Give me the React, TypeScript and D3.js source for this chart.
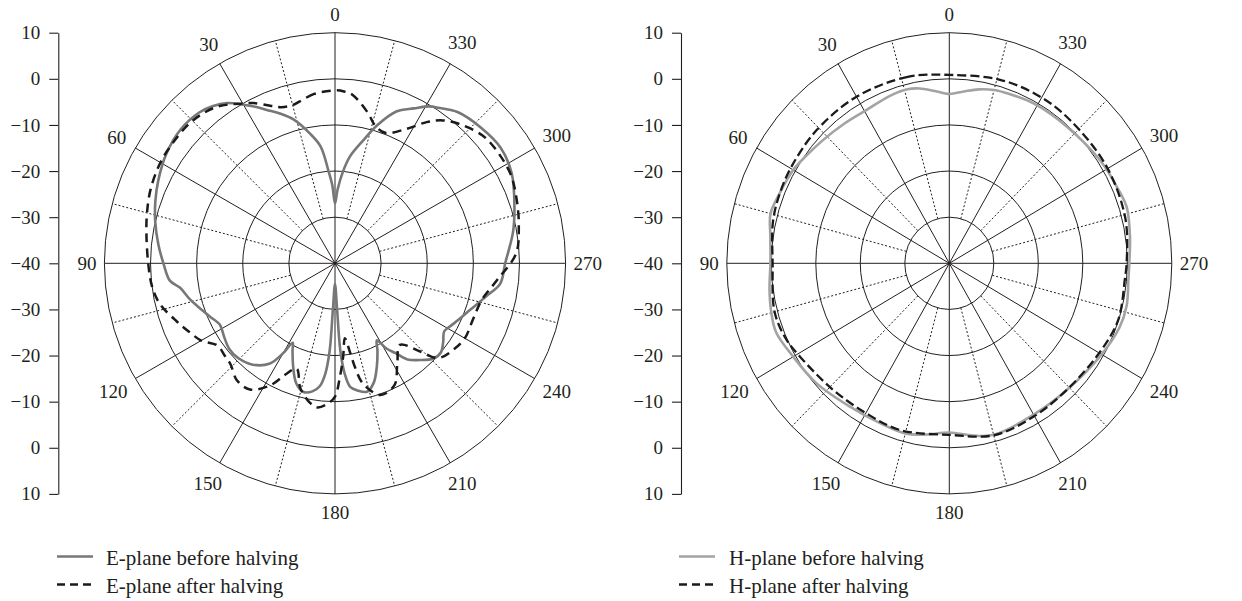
import React, { useEffect, useRef } from 'react';
import * as d3 from 'd3';

// grid rings in dB (centre of the plot is -40)
const ringLevels = [-30, -20, -10, 0, 10];
const axisTickLabels = ['10', '0', '−10', '−20', '−30', '−40', '−30', '−20', '−10', '0', '10'];
const angleLabels = [0, 30, 60, 90, 120, 150, 180, 210, 240, 270, 300, 330];
const dottedAngles = [15, 45, 75, 105, 135, 165, 195, 225, 255, 285, 315, 345];

// E-plane before halving (grey solid)
const eBeforeAngles = [0, 2, 4, 7, 11, 16, 20, 24, 27, 30, 34, 38, 42, 49, 57, 65, 71, 77, 84, 90,
  96, 99, 104, 108, 113, 118, 121, 124, 129, 134, 141, 147, 150, 152, 154, 158, 162, 166, 170, 173,
  175, 176.5, 177.4, 180, 182.6, 183.5, 185, 187, 190, 194, 198, 202, 206, 208.5, 211, 214, 217, 221,
  226, 230, 234, 238, 241, 246, 251, 258, 263, 270, 280, 288, 297, 305, 313, 321, 326, 329, 333, 338,
  343, 347, 352, 355, 358];
const eBeforeDb = [-27, -23, -20, -14.5, -11.3, -7.6, -5.5, -3.6, -1.9, -0.3, 1.9, 3.2, 4.0, 4.3, 3.6, 2.3, 1.2, 0.0, -1.5, -2.8,
  -4.0, -6.0, -7.6, -9.0, -10.5, -11.7, -11.5, -11.1, -10.5, -10.6, -11.7, -14.1, -17.5, -20.5, -19, -15.8, -12.7, -11.3, -11.8, -13.2,
  -16, -21, -30, -35.5, -30, -21, -16, -13, -12.0, -11.3, -12.8, -15.8, -19, -21, -18.5, -16.5, -13.9, -12.2,
  -10.3, -10.0, -11.0, -12.1, -11.6, -10.4, -9.0, -6.3, -3.9, -3.1, -0.8, 0.9, 3.0, 3.8, 3.2, 2.2, 0.6, -0.3, -2.3, -4.5,
  -8.7, -12.6, -16.6, -20, -24];

// E-plane after halving (black dashed)
const eAfterAngles = [0, 7, 11, 15, 19, 22, 27, 30, 37, 45, 53, 60, 68, 75, 81, 90, 97, 103, 110, 115,
  120, 125, 130, 134, 140, 146, 152, 156, 160, 164.5, 170, 173, 177, 180, 182.5, 185, 187.5, 189.5, 191, 193,
  199, 206, 212, 218.5, 224, 227.5, 234, 240, 248, 256, 264, 273, 281, 289, 297, 306, 311, 317.5, 323, 327,
  332, 339, 344, 347.5, 354, 357];
const eAfterDb = [-2.5, -3.0, -3.8, -4.5, -4.2, -3.2, -1.0, 0.0, 2.5, 3.7, 3.8, 3.7, 3.1, 2.2, 1.4, 0.5, 0.0, -1.0, -3.4, -5.0,
  -6.5, -8.9, -8.8, -8.5, -6.9, -7.0, -10.0, -13.6, -15.7, -11.9, -9.2, -8.5, -9.5, -11.1, -15.4, -19.7, -23.6, -20.6, -16.8, -13.3,
  -9.8, -10.6, -14.5, -17.4, -13.4, -9.6, -8.2, -7.5, -7.7, -7.2, -4.7, -0.7, 0.6, 1.7, 2.7, 2.7, 2.3, 0.7, -1.2, -3.5,
  -7.0, -9.7, -8.8, -6.7, -3.3, -2.7];

// H-plane before halving (light grey solid)
const hBeforeAngles = [0, 5, 10, 14, 20, 29, 38, 47, 54, 60, 69, 75, 82, 90, 98, 105, 111, 120, 131, 144,
  156, 165, 172, 180, 188, 195, 210, 224, 239, 250, 257, 265, 270, 278, 287, 292, 303, 318, 331, 340,
  345, 350, 355];
const hBeforeDb = [-3.3, -2.5, -1.5, -1.1, -1.3, -1.9, -1.6, -1.0, -0.3, 0.5, 1.1, 1.6, 0.6, 0.2, 0.8, 1.4, 1.7, 0.5, -0.4, -1.7,
  -2.0, -1.8, -2.5, -3.3, -2.3, -1.5, -2.1, -1.9, -0.6, 0.7, 0.9, 0.4, 0.45, 1.0, 1.7, 1.3, 0.6, -0.3, -0.5, -0.9,
  -1.1, -1.7, -2.6];

// H-plane after halving (black dashed)
const hAfterAngles = [0, 13, 30, 46, 59, 68, 77, 90, 105, 114, 121, 136, 150, 163, 180, 195, 210, 225, 240, 252,
  265, 270, 284, 301, 319, 331, 344];
const hAfterDb = [0.85, 1.5, 1.7, 1.5, 1.2, 1.0, 0.65, -0.3, 0.65, 0.2, -0.8, -2.1, -2.5, -2.2, -2.8, -1.4, -1.75, -1.9, -1.1, -0.1,
  -0.4, -0.15, 0.75, 1.1, 1.25, 1.5, 1.4];

const ink = '#231f20';
const font = "'Liberation Serif', 'Times New Roman', serif";

type Series = { angles: number[]; values: number[]; color: string; width: number; dash: string | null; label: string };

type Panel = {
  cx: number; cy: number; rx: number; ry: number; axisX: number;
  legendX1: number; legendX2: number; legendTextX: number;
  series: Series[];
};

const panels: Panel[] = [
  {
    cx: 335, cy: 263.3, rx: 230.6, ry: 230.6, axisX: 58.3,
    legendX1: 57, legendX2: 93, legendTextX: 106,
    series: [
      { angles: eBeforeAngles, values: eBeforeDb, color: '#777777', width: 2.6, dash: null, label: 'E-plane before halving' },
      { angles: eAfterAngles, values: eAfterDb, color: '#1a1a1a', width: 2.5, dash: '9,6', label: 'E-plane after halving' },
    ],
  },
  {
    cx: 949.3, cy: 263.3, rx: 222.5, ry: 230.6, axisX: 681,
    legendX1: 679, legendX2: 715, legendTextX: 729,
    series: [
      { angles: hBeforeAngles, values: hBeforeDb, color: '#a3a3a3', width: 2.6, dash: null, label: 'H-plane before halving' },
      { angles: hAfterAngles, values: hAfterDb, color: '#1a1a1a', width: 2.3, dash: '9,4', label: 'H-plane after halving' },
    ],
  },
];

const rad = (a: number) => (a * Math.PI) / 180;

const App = () => {
  const ref = useRef<SVGSVGElement>(null);

  useEffect(() => {
    const svg = d3.select(ref.current);
    svg.selectAll('*').remove();

    panels.forEach(p => {
      const g = svg.append('g');
      const rX = d3.scaleLinear().domain([-40, 10]).range([0, p.rx]);
      const rY = d3.scaleLinear().domain([-40, 10]).range([0, p.ry]);
      const px = (a: number, v: number) => p.cx - rX(v) * Math.sin(rad(a));
      const py = (a: number, v: number) => p.cy - rY(v) * Math.cos(rad(a));

      // rings
      g.selectAll('ellipse.ring')
        .data(ringLevels)
        .enter()
        .append('ellipse')
        .attr('cx', p.cx)
        .attr('cy', p.cy)
        .attr('rx', d => rX(d))
        .attr('ry', d => rY(d))
        .attr('fill', 'none')
        .attr('stroke', ink)
        .attr('stroke-width', 1);

      // solid spokes
      g.selectAll('line.spoke')
        .data(angleLabels)
        .enter()
        .append('line')
        .attr('x1', p.cx)
        .attr('y1', p.cy)
        .attr('x2', d => px(d, 10))
        .attr('y2', d => py(d, 10))
        .attr('stroke', ink)
        .attr('stroke-width', 1);

      // dotted spokes
      g.selectAll('line.dot')
        .data(dottedAngles)
        .enter()
        .append('line')
        .attr('x1', d => px(d, -30))
        .attr('y1', d => py(d, -30))
        .attr('x2', d => px(d, 10))
        .attr('y2', d => py(d, 10))
        .attr('stroke', ink)
        .attr('stroke-width', 1)
        .attr('stroke-dasharray', '2,2');

      // angle labels
      const fs = 19;
      g.selectAll('text.ang')
        .data(angleLabels)
        .enter()
        .append('text')
        .attr('x', d => {
          const s = Math.sin(rad(d)), c = Math.cos(rad(d));
          const w = String(d).length * 0.5 * fs;
          const off = 8 + Math.abs(s) * w / 2 + Math.abs(c) * 10.4;
          return p.cx - s * (p.rx + off);
        })
        .attr('y', d => {
          const s = Math.sin(rad(d)), c = Math.cos(rad(d));
          const w = String(d).length * 0.5 * fs;
          const off = 8 + Math.abs(s) * w / 2 + Math.abs(c) * 10.4;
          return p.cy - c * (p.ry + off);
        })
        .attr('dy', '0.34em')
        .attr('text-anchor', 'middle')
        .attr('font-family', font)
        .attr('font-size', fs)
        .attr('fill', ink)
        .text(d => String(d));

      // dB axis on the left
      const yAxis = d3.scaleLinear().domain([0, axisTickLabels.length - 1]).range([p.cy - p.ry, p.cy + p.ry]);
      const axisG = g.append('g')
        .attr('transform', `translate(${p.axisX},0)`)
        .call(
          d3.axisLeft(yAxis)
            .tickValues(d3.range(axisTickLabels.length))
            .tickFormat(i => axisTickLabels[i as number])
            .tickSize(9)
            .tickSizeOuter(0)
            .tickPadding(9)
        );
      axisG.attr('font-family', font).attr('font-size', fs).attr('color', ink);
      axisG.selectAll('line').attr('stroke-width', 1.1);
      axisG.select('.domain').attr('stroke-width', 1.1);

      // pattern curves
      p.series.forEach(s => {
        const pts = s.angles.map((a, i) => [a, s.values[i]] as [number, number]);
        const line = d3.line<[number, number]>()
          .x(d => px(d[0], d[1]))
          .y(d => py(d[0], d[1]))
          .curve(d3.curveCatmullRomClosed.alpha(0.5));
        g.append('path')
          .attr('d', line(pts))
          .attr('fill', 'none')
          .attr('stroke', s.color)
          .attr('stroke-width', s.width)
          .attr('stroke-dasharray', s.dash)
          .attr('stroke-linejoin', 'round');
      });

      // legend
      p.series.forEach((s, i) => {
        const base = 565 + i * 28;
        g.append('line')
          .attr('x1', p.legendX1)
          .attr('x2', p.legendX2)
          .attr('y1', base - 8.5)
          .attr('y2', base - 8.5)
          .attr('stroke', s.color)
          .attr('stroke-width', s.dash ? 2.5 : 2.6)
          .attr('stroke-dasharray', s.dash ? '8,5' : null);
        g.append('text')
          .attr('x', p.legendTextX)
          .attr('y', base)
          .attr('font-family', font)
          .attr('font-size', 21)
          .attr('fill', ink)
          .text(s.label);
      });
    });
  }, []);

  return (
    <svg
      ref={ref}
      width={1242}
      height={601}
      style={{ position: 'absolute', left: 0, top: 0, background: '#fff' }}
    />
  );
};

export default App;
